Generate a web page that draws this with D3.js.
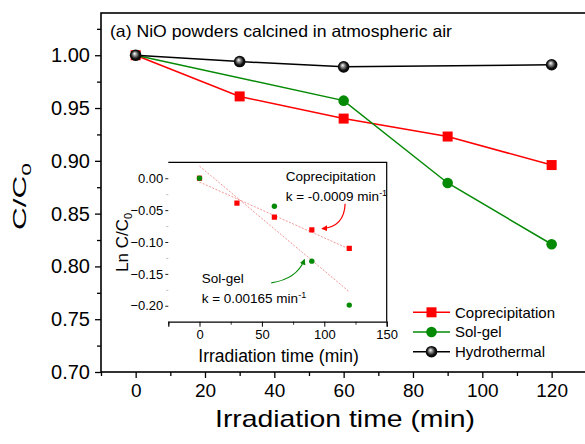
<!DOCTYPE html>
<html>
<head>
<meta charset="utf-8">
<script src="https://cdn.jsdelivr.net/npm/d3@7/dist/d3.min.js"></script>
<style>
  html, body { margin: 0; padding: 0; background: #fff; }
  svg { display: block; font-family: "Liberation Sans", Arial, sans-serif; }
</style>
</head>
<body>
<svg id="chart" width="585" height="444"></svg>
<script>
// Main panel: C/C0 versus irradiation time
const copTimes = [0, 30, 60, 90, 120];
const copValues = [1.000, 0.961, 0.940, 0.923, 0.896];
const solTimes = [0, 60, 90, 120];
const solValues = [1.000, 0.957, 0.879, 0.821];
const hydTimes = [0, 30, 60, 120];
const hydValues = [1.000, 0.994, 0.989, 0.991];

const xTicks = [0, 20, 40, 60, 80, 100, 120];
const xMinorTicks = [-10, 10, 30, 50, 70, 90, 110, 130];
const yTicks = [0.70, 0.75, 0.80, 0.85, 0.90, 0.95, 1.00];
const yMinorTicks = [0.725, 0.775, 0.825, 0.875, 0.925, 0.975, 1.025];

// Inset: Ln C/C0 with linear fits
const lnCopTimes = [0, 30, 60, 90, 120];
const lnCopValues = [0.000, -0.039, -0.061, -0.081, -0.110];
const lnSolTimes = [0, 60, 90, 120];
const lnSolValues = [0.000, -0.044, -0.130, -0.199];
const fitTimes = [0, 120];
const fitCop = [-0.006, -0.111];
const fitSol = [0.019, -0.178];

const insetXTicks = [0, 50, 100, 150];
const insetXMinor = [-25, 25, 75, 125];
const insetYTicks = [0.00, -0.05, -0.10, -0.15, -0.20];
const insetYMinor = [-0.025, -0.075, -0.125, -0.175];

const seriesNames = ["Coprecipitation", "Sol-gel", "Hydrothermal"];
const RED = "#ff0000", GREEN = "#058a05", BLACK = "#000000";

const svg = d3.select("#chart");
const defs = svg.append("defs");

// glossy sphere for hydrothermal markers
const grad = defs.append("radialGradient").attr("id", "sphere")
  .attr("cx", "0.5").attr("cy", "0.5").attr("r", "0.55")
  .attr("fx", "0.4").attr("fy", "0.35");
grad.append("stop").attr("offset", "0").attr("stop-color", "#ffffff");
grad.append("stop").attr("offset", "0.3").attr("stop-color", "#8a8a8a");
grad.append("stop").attr("offset", "0.65").attr("stop-color", "#111111");
grad.append("stop").attr("offset", "1").attr("stop-color", "#000000");

function arrowMarker(id, color) {
  defs.append("marker").attr("id", id)
    .attr("viewBox", "0 0 10 10").attr("refX", 8).attr("refY", 5)
    .attr("markerWidth", 6).attr("markerHeight", 6)
    .attr("markerUnits", "userSpaceOnUse")
    .attr("orient", "auto")
    .append("path").attr("d", "M0,0 L10,5 L0,10 Z").attr("fill", color);
}
arrowMarker("arrRed", RED);
arrowMarker("arrGreen", GREEN);

// ---------- main panel ----------
const x = d3.scaleLinear().domain([-10, 130]).range([101, 586.3]);
const y = d3.scaleLinear().domain([0.70, 1.04]).range([372, 13]);

const gx = svg.append("g").attr("transform", "translate(0,372)");
gx.call(d3.axisBottom(x).tickValues(xMinorTicks).tickSize(4).tickFormat(""));
gx.call(g => g.select(".domain").remove());
const gx2 = svg.append("g").attr("transform", "translate(0,372)")
  .call(d3.axisBottom(x).tickValues(xTicks).tickSize(6).tickPadding(6).tickFormat(d3.format("d")));
gx2.select(".domain").remove();
gx2.selectAll("text").attr("font-size", 19).attr("fill", "#000")
  .attr("font-family", "Liberation Sans, Arial, sans-serif");
svg.selectAll(".tick line").attr("stroke", "#000").attr("stroke-width", 1.3);

const gy = svg.append("g").attr("transform", "translate(101,0)")
  .call(d3.axisLeft(y).tickValues(yMinorTicks).tickSize(4).tickFormat(""));
gy.select(".domain").remove();
const gy2 = svg.append("g").attr("transform", "translate(101,0)")
  .call(d3.axisLeft(y).tickValues(yTicks).tickSize(6).tickPadding(5).tickFormat(d3.format(".2f")));
gy2.select(".domain").remove();
gy2.selectAll("text").attr("font-size", 20).attr("fill", "#000")
  .attr("font-family", "Liberation Sans, Arial, sans-serif");
svg.selectAll(".tick line").attr("stroke", "#000").attr("stroke-width", 1.3);

// frame
svg.append("rect").attr("x", 101).attr("y", 13)
  .attr("width", x(130) - 101).attr("height", 372 - 13)
  .attr("fill", "none").attr("stroke", "#000").attr("stroke-width", 1.6);

// title
svg.append("text").attr("x", 110).attr("y", 37)
  .attr("font-size", 16.5).attr("textLength", 342).attr("lengthAdjust", "spacingAndGlyphs")
  .text("(a) NiO powders calcined in atmospheric air");

// axis titles
svg.append("text").attr("x", 345).attr("y", 427).attr("text-anchor", "middle")
  .attr("font-size", 24).attr("textLength", 260).attr("lengthAdjust", "spacingAndGlyphs")
  .text("Irradiation time (min)");

const yl = svg.append("text")
  .attr("transform", "translate(26,230) rotate(-90)")
  .attr("font-size", 18).attr("textLength", 67).attr("lengthAdjust", "spacingAndGlyphs");
yl.append("tspan").text("C/C");
yl.append("tspan").attr("font-size", 13).attr("dy", 5).text("0");

// ---------- inset ----------
const ix = d3.scaleLinear().domain([-25, 150]).range([168.3, 386.7]);
const iy = d3.scaleLinear().domain([-0.225, 0.025]).range([321.7, 162.3]);

svg.append("rect").attr("x", 168.3).attr("y", 162.3)
  .attr("width", 386.7 - 168.3).attr("height", 321.7 - 162.3)
  .attr("fill", "#fff");
// top and right borders
svg.append("path")
  .attr("d", `M168.3,162.3 H386.7 V321.7`)
  .attr("fill", "none").attr("stroke", "#000").attr("stroke-width", 1.2);

const igx = svg.append("g").attr("transform", "translate(0,321.7)")
  .call(d3.axisBottom(ix).tickValues(insetXMinor).tickSize(3).tickFormat(""));
igx.select(".domain").remove();
const igx2 = svg.append("g").attr("transform", "translate(0,321.7)")
  .call(d3.axisBottom(ix).tickValues(insetXTicks).tickSize(5).tickPadding(3).tickFormat(d3.format("d")));
igx2.select(".domain").attr("stroke", "#000").attr("stroke-width", 1.2);
igx2.selectAll("text").attr("font-size", 13).attr("fill", "#000")
  .attr("font-family", "Liberation Sans, Arial, sans-serif");
igx.selectAll(".tick line").attr("stroke", "#333");
igx2.selectAll(".tick line").attr("stroke", "#000");

const igy = svg.append("g").attr("transform", "translate(168.3,0)")
  .call(d3.axisLeft(iy).tickValues(insetYMinor).tickSize(2).tickFormat(""));
igy.select(".domain").remove();
igy.selectAll(".tick line").attr("stroke", "#bbb");
const igy2 = svg.append("g").attr("transform", "translate(168.3,0)")
  .call(d3.axisLeft(iy).tickValues(insetYTicks).tickSize(3).tickPadding(2).tickFormat(d3.format(".2f")));
igy2.select(".domain").remove();
igy2.selectAll(".tick line").attr("stroke", "#222");
igy2.selectAll("text").attr("font-size", 13).attr("fill", "#000")
  .attr("font-family", "Liberation Sans, Arial, sans-serif");

svg.append("text").attr("x", 278.5).attr("y", 362).attr("text-anchor", "middle")
  .attr("font-size", 17.5).text("Irradiation time (min)");

const iyl = svg.append("text")
  .attr("transform", "translate(128,272) rotate(-90)")
  .attr("font-size", 17);
iyl.append("tspan").text("Ln C/C");
iyl.append("tspan").attr("font-size", 11).attr("dy", 4).text("0");

// fit lines
const fitLine = d3.line().x(d => ix(d[0])).y(d => iy(d[1]));
[fitCop, fitSol].forEach(f => {
  svg.append("path").datum(fitTimes.map((t, i) => [t, f[i]]))
    .attr("d", fitLine).attr("fill", "none")
    .attr("stroke", "#f28a8a").attr("stroke-width", 0.9)
    .attr("stroke-dasharray", "2,1.5");
});

// inset points
svg.append("g").selectAll("rect").data(lnCopTimes.map((t, i) => [t, lnCopValues[i]]))
  .join("rect")
  .attr("x", d => ix(d[0]) - 2.6).attr("y", d => iy(d[1]) - 2.6)
  .attr("width", 5.2).attr("height", 5.2).attr("fill", RED);
svg.append("g").selectAll("circle").data(lnSolTimes.map((t, i) => [t, lnSolValues[i]]))
  .join("circle")
  .attr("cx", d => ix(d[0])).attr("cy", d => iy(d[1])).attr("r", 2.7).attr("fill", GREEN);

// inset annotations
const annFont = 13.5;
svg.append("text").attr("x", 285.7).attr("y", 181).attr("font-size", annFont).text("Coprecipitation");
const k1 = svg.append("text").attr("x", 285.7).attr("y", 200.5).attr("font-size", annFont);
k1.append("tspan").text("k = -0.0009 min");
k1.append("tspan").attr("font-size", 9).attr("dy", -5).text("-1");

svg.append("text").attr("x", 201.7).attr("y", 283).attr("font-size", annFont).text("Sol-gel");
const k2 = svg.append("text").attr("x", 201.7).attr("y", 302.5).attr("font-size", annFont);
k2.append("tspan").text("k = 0.00165 min");
k2.append("tspan").attr("font-size", 9).attr("dy", -5).text("-1");

// curved pointers, anchored in data units
const redArrow = [[116.7, -0.040], [116, -0.076], [98.5, -0.079]];
const greenArrow = [[57.5, -0.164], [78, -0.158], [84, -0.128]];
function curve(pts) {
  const p = pts.map(d => [ix(d[0]), iy(d[1])]);
  return `M${p[0][0]},${p[0][1]} Q${p[1][0]},${p[1][1]} ${p[2][0]},${p[2][1]}`;
}
svg.append("path").attr("d", curve(redArrow)).attr("fill", "none")
  .attr("stroke", RED).attr("stroke-width", 1.2).attr("marker-end", "url(#arrRed)");
svg.append("path").attr("d", curve(greenArrow)).attr("fill", "none")
  .attr("stroke", GREEN).attr("stroke-width", 1.2).attr("marker-end", "url(#arrGreen)");

// ---------- main series ----------
const line = d3.line().x(d => x(d[0])).y(d => y(d[1]));
const cop = copTimes.map((t, i) => [t, copValues[i]]);
const sol = solTimes.map((t, i) => [t, solValues[i]]);
const hyd = hydTimes.map((t, i) => [t, hydValues[i]]);

svg.append("path").datum(cop).attr("d", line).attr("fill", "none").attr("stroke", RED).attr("stroke-width", 1.5);
svg.append("path").datum(sol).attr("d", line).attr("fill", "none").attr("stroke", GREEN).attr("stroke-width", 1.5);
svg.append("path").datum(hyd).attr("d", line).attr("fill", "none").attr("stroke", BLACK).attr("stroke-width", 1.5);

svg.append("g").selectAll("rect").data(cop).join("rect")
  .attr("x", d => x(d[0]) - 5).attr("y", d => y(d[1]) - 5)
  .attr("width", 10).attr("height", 10).attr("fill", RED);
svg.append("g").selectAll("circle").data(sol).join("circle")
  .attr("cx", d => x(d[0])).attr("cy", d => y(d[1])).attr("r", 5.3).attr("fill", GREEN);
svg.append("g").selectAll("circle").data(hyd).join("circle")
  .attr("cx", d => x(d[0])).attr("cy", d => y(d[1])).attr("r", 5.8)
  .attr("fill", "url(#sphere)");

// ---------- legend ----------
const legendRows = [
  { name: seriesNames[0], color: RED, shape: "square" },
  { name: seriesNames[1], color: GREEN, shape: "circle" },
  { name: seriesNames[2], color: BLACK, shape: "sphere" }
];
const legY = d3.scalePoint().domain(seriesNames).range([312.3, 351.7]);
const lg = svg.append("g").selectAll("g").data(legendRows).join("g")
  .attr("transform", d => `translate(0,${legY(d.name)})`);
lg.append("line").attr("x1", 413).attr("x2", 450).attr("y1", 0).attr("y2", 0)
  .attr("stroke", d => d.color).attr("stroke-width", 1.5);
lg.each(function(d) {
  const g = d3.select(this);
  if (d.shape === "square") {
    g.append("rect").attr("x", 431.5 - 5).attr("y", -5).attr("width", 10).attr("height", 10).attr("fill", d.color);
  } else if (d.shape === "circle") {
    g.append("circle").attr("cx", 431.5).attr("cy", 0).attr("r", 5.3).attr("fill", d.color);
  } else {
    g.append("circle").attr("cx", 431.5).attr("cy", 0).attr("r", 5.8).attr("fill", "url(#sphere)");
  }
});
lg.append("text").attr("x", 455).attr("y", 0).attr("dy", "0.36em")
  .attr("font-size", 15).text(d => d.name);
</script>
</body>
</html>
